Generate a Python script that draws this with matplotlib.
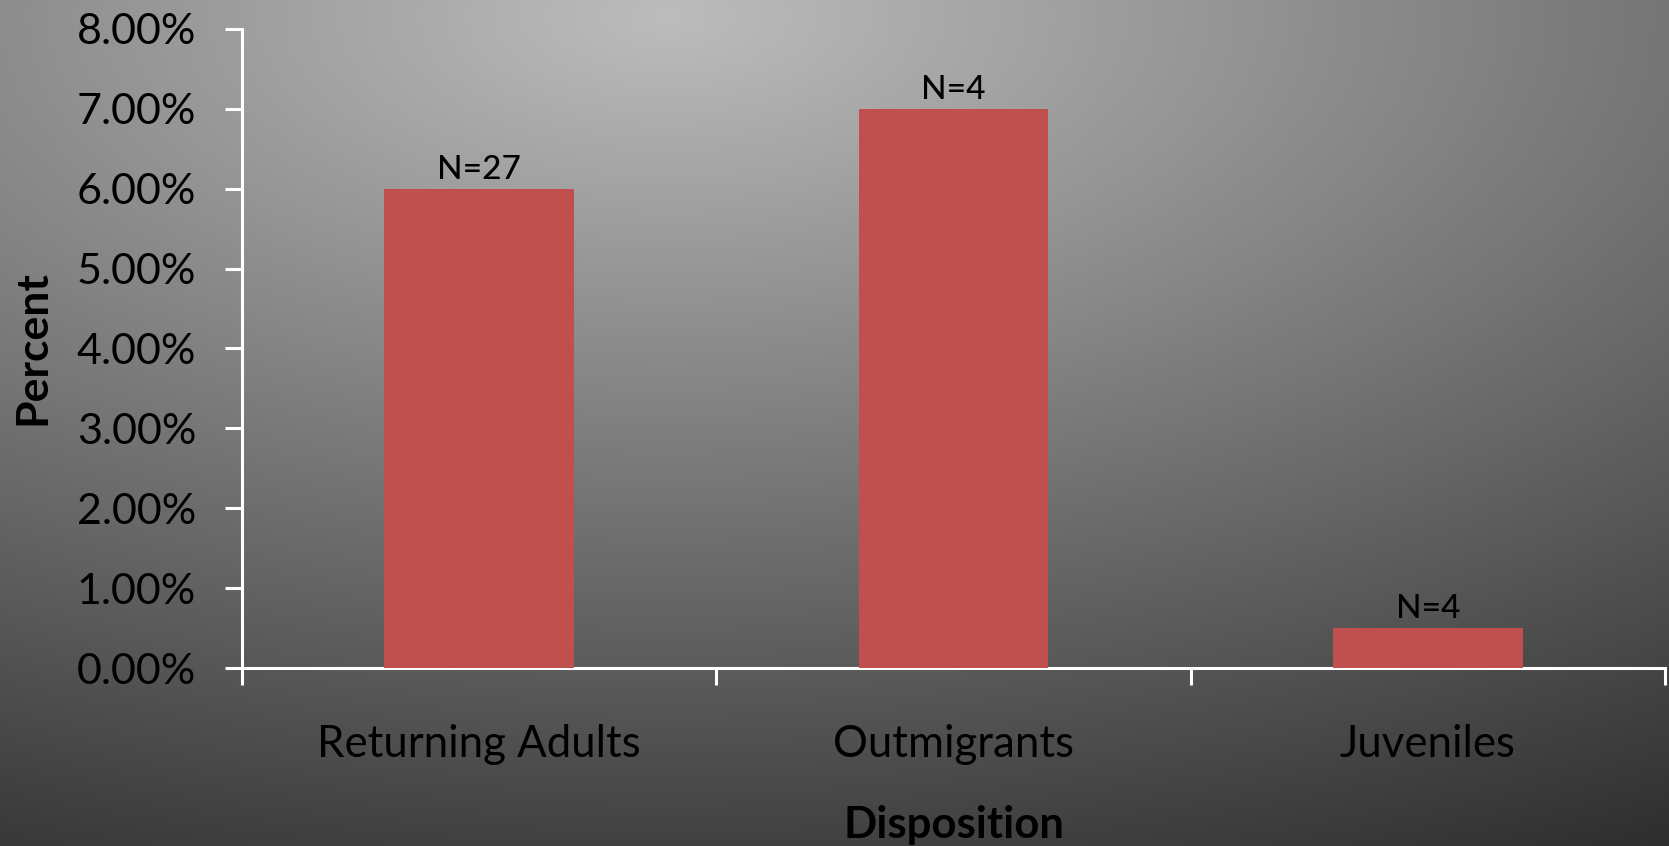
import numpy as np
import matplotlib
matplotlib.use("Agg")
import matplotlib.pyplot as plt
from matplotlib.ticker import FuncFormatter, MultipleLocator

# Share of tagged fish by disposition
categories = ["Returning Adults", "Outmigrants", "Juveniles"]
percent_values = [6.0, 7.0, 0.5]
n_labels = ["N=27", "N=4", "N=4"]

W, H, DPI = 1669, 846, 100
plt.rcParams["font.family"] = ["Lato", "DejaVu Sans"]

fig = plt.figure(figsize=(W / DPI, H / DPI), dpi=DPI)

# Radial grey background, brightest near the top middle
bg = fig.add_axes([0, 0, 1, 1], zorder=-10)
yy, xx = np.mgrid[0:H, 0:W]
cx, cy = 0.40 * W, 0.02 * H
r = np.sqrt(((xx - cx) / W) ** 2 + ((yy - cy) / (0.95 * H)) ** 2)
r = r / r.max()
g = 0.74 - 0.56 * r
bg.imshow(np.dstack([g, g, g]).clip(0, 1), aspect="auto", extent=[0, 1, 0, 1])
bg.axis("off")

ax = fig.add_axes([242 / W, 1 - 668 / H, (1665 - 242) / W, (668 - 29) / H])
ax.set_facecolor("none")
x = np.arange(len(categories))
bars = ax.bar(x, [v / 100 for v in percent_values], width=0.4, color="#C0504D", zorder=3)

for xi, v, lab in zip(x, percent_values, n_labels):
    ax.annotate(lab, (xi, v / 100), xytext=(0, 3), textcoords="offset points",
                ha="center", va="bottom", fontsize=24, fontweight="medium", color="black")

ax.set_xlim(-0.5, 2.5)
ax.set_ylim(0, 0.08)
ax.yaxis.set_major_locator(MultipleLocator(0.01))
ax.yaxis.set_major_formatter(FuncFormatter(lambda v, p: f"{v * 100:.2f}%"))
ax.set_xticks([-0.5, 0.5, 1.5, 2.5])
ax.set_xticklabels([])
ax.set_xticks(x, minor=True)
ax.set_xticklabels(categories, minor=True)
ax.tick_params(axis="x", which="minor", length=0, pad=40.5, labelsize=31.5, labelcolor="black")
ax.tick_params(axis="x", which="major", length=12, width=2.2, color="white", direction="out")
ax.tick_params(axis="y", length=12, width=2.2, color="white", direction="out", pad=21,
               labelsize=31, labelcolor="black")

for s in ["top", "right"]:
    ax.spines[s].set_visible(False)
for s in ["left", "bottom"]:
    ax.spines[s].set_color("white")
    ax.spines[s].set_linewidth(2.2)

fig.text(32 / W, 1 - 348 / H, "Percent", rotation=90, ha="center", va="center",
         fontsize=32, fontweight="bold", color="black")
fig.text(954 / W, 1 - 825 / H, "Disposition", ha="center", va="center",
         fontsize=31.5, fontweight="bold", color="black")

fig.savefig("out.png", dpi=DPI)
